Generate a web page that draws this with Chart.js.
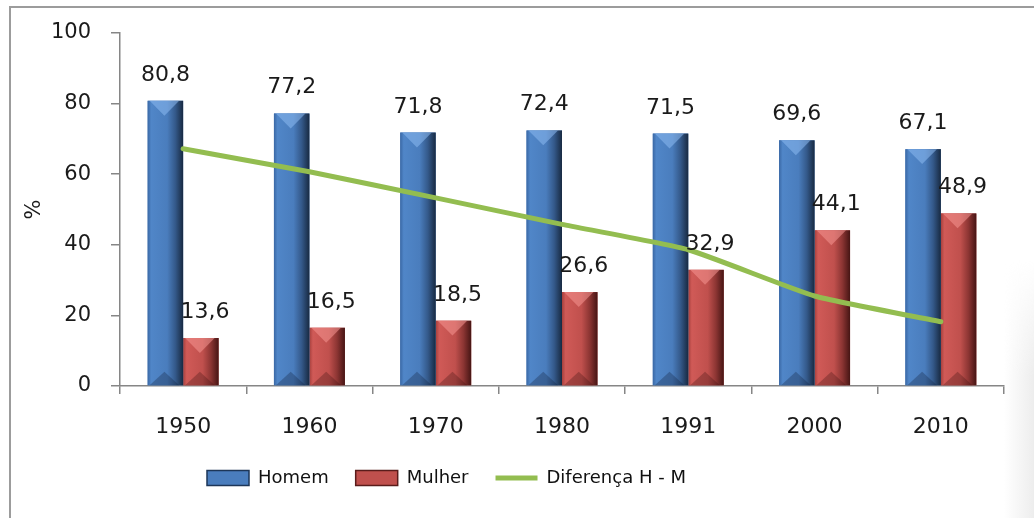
<!DOCTYPE html>
<html>
<head>
<meta charset="utf-8">
<script src="https://cdn.jsdelivr.net/npm/chart.js@4.4.1/dist/chart.umd.min.js"></script>
<style>
  html, body { margin: 0; padding: 0; background: #fff; }
  #moldura { position: absolute; left: 9px; top: 6px; width: 1100px; height: 600px; border: 2px solid #9c9c9c; }
  #sombra { position: absolute; left: 1004px; top: 260px; width: 30px; height: 258px;
            background: linear-gradient(to right, rgba(255,255,255,0), #ededed);
            -webkit-mask-image: linear-gradient(to bottom, transparent, #000 45%); mask-image: linear-gradient(to bottom, transparent, #000 45%); }
  #grafico { position: absolute; left: 0; top: 0; }
</style>
</head>
<body>
<div id="moldura"></div>
<div id="sombra"></div>
<canvas id="grafico" width="1034" height="518"></canvas>
<script>
// Dados
const anos = ['1950', '1960', '1970', '1980', '1991', '2000', '2010'];
const homem = [80.8, 77.2, 71.8, 72.4, 71.5, 69.6, 67.1];
const mulher = [13.6, 16.5, 18.5, 26.6, 32.9, 44.1, 48.9];
const diferenca = [67.2, 60.7, 53.3, 45.8, 38.6, 25.5, 18.2];
const ticksY = [0, 20, 40, 60, 80, 100];

const fonte = "'DejaVu Sans', sans-serif";

// cores do efeito "bisel" das barras (estilo Excel)
const estilos = [
    { base: '#4a7dbd', stops: ['#3a68a5', '#5086c8', '#4a7dbd', '#34598a', '#182a42'], topo: 'rgba(140,185,240,0.55)', fundo: 'rgba(15,30,55,0.3)' },
    { base: '#c0504d', stops: ['#a6403d', '#d05a57', '#c0504d', '#8c3533', '#461514'], topo: 'rgba(245,150,145,0.55)', fundo: 'rgba(60,15,15,0.3)' }
];

const pluginBisel = {
    id: 'bisel',
    afterDatasetDraw(chart, args) {
        if (args.index > 1) return;
        const est = estilos[args.index];
        const ctx = chart.ctx;
        args.meta.data.forEach(function(bar) {
            const w = bar.width;
            const esq = bar.x - w / 2, dir = bar.x + w / 2;
            const topo = bar.y, base = bar.base;
            ctx.save();
            const g = ctx.createLinearGradient(esq, 0, dir, 0);
            g.addColorStop(0, est.stops[0]);
            g.addColorStop(0.1, est.stops[1]);
            g.addColorStop(0.55, est.stops[2]);
            g.addColorStop(0.78, est.stops[3]);
            g.addColorStop(1, est.stops[4]);
            ctx.fillStyle = g;
            ctx.fillRect(esq, topo, w, base - topo);
            // triângulo claro no topo
            ctx.beginPath();
            ctx.moveTo(esq + 2, topo);
            ctx.lineTo(dir - 4, topo);
            ctx.lineTo(bar.x - 1, topo + w * 0.42);
            ctx.closePath();
            ctx.fillStyle = est.topo;
            ctx.fill();
            // sombra na base
            ctx.beginPath();
            ctx.moveTo(esq + 2, base);
            ctx.lineTo(dir - 4, base);
            ctx.lineTo(bar.x - 1, base - w * 0.38);
            ctx.closePath();
            ctx.fillStyle = est.fundo;
            ctx.fill();
            ctx.restore();
        });
    }
};

const pluginRotulos = {
    id: 'rotulos',
    afterDatasetsDraw(chart) {
        const ctx = chart.ctx;
        ctx.save();
        ctx.font = '22px ' + fonte;
        ctx.fillStyle = '#1a1a1a';
        ctx.textAlign = 'center';
        ctx.textBaseline = 'alphabetic';
        [0, 1].forEach(function(i) {
            const meta = chart.getDatasetMeta(i);
            meta.data.forEach(function(bar, j) {
                const txt = chart.data.datasets[i].data[j].toFixed(1).replace('.', ',');
                ctx.fillText(txt, bar.x + (i === 1 ? 4 : 0), bar.y - 20);
            });
        });
        ctx.restore();
    }
};

const pluginLegenda = {
    id: 'posLegenda',
    afterLayout(chart) {
        const dx = 180 - chart.legend.left;
        chart.legend.left += dx;
        chart.legend.right += dx;
    }
};

new Chart(document.getElementById('grafico').getContext('2d'), {
    type: 'bar',
    data: {
        labels: anos,
        datasets: [
            { label: 'Homem', data: homem, backgroundColor: estilos[0].base, order: 1 },
            { label: 'Mulher', data: mulher, backgroundColor: estilos[1].base, order: 1 },
            {
                type: 'line',
                label: 'Diferença H - M',
                data: diferenca,
                borderColor: '#93bd50',
                backgroundColor: '#93bd50',
                borderWidth: 5,
                pointRadius: 0,
                tension: 0.15,
                borderCapStyle: 'round',
                order: 0
            }
        ]
    },
    options: {
        responsive: false,
        animation: false,
        layout: { padding: { left: 10, right: 30, top: 33, bottom: 21 } },
        datasets: { bar: { categoryPercentage: 0.562, barPercentage: 1 } },
        plugins: {
            tooltip: { enabled: false },
            legend: {
                position: 'bottom',
                align: 'start',
                labels: {
                    usePointStyle: true,
                    pointStyleWidth: 42,
                    boxHeight: 15,
                    padding: 27,
                    color: '#111',
                    font: { family: fonte, size: 18 },
                    generateLabels: function(chart) {
                        return chart.data.datasets.map(function(ds, i) {
                            const linha = ds.type === 'line';
                            return {
                                text: ds.label,
                                datasetIndex: i,
                                pointStyle: linha ? 'line' : 'rect',
                                fillStyle: ds.backgroundColor,
                                strokeStyle: linha ? ds.borderColor : (i === 0 ? '#1d3658' : '#5a1c1b'),
                                lineWidth: linha ? 5 : 1.5,
                                fontColor: '#111',
                                hidden: false
                            };
                        });
                    }
                }
            }
        },
        scales: {
            x: {
                afterFit: function(scale) { scale.height = 56; },
                border: { color: '#868686', width: 1.5 },
                grid: { drawOnChartArea: false, color: '#868686', lineWidth: 1.5, tickLength: 8 },
                ticks: { color: '#1a1a1a', padding: 20, font: { family: fonte, size: 22 } }
            },
            y: {
                min: 0,
                max: 100,
                afterFit: function(scale) { scale.width = 110; },
                afterBuildTicks: function(scale) { scale.ticks = ticksY.map(function(v) { return { value: v }; }); },
                border: { color: '#868686', width: 1.5 },
                grid: { drawOnChartArea: false, color: '#868686', lineWidth: 1.5, tickLength: 9 },
                ticks: { color: '#1a1a1a', padding: 20, font: { family: fonte, size: 21 } },
                title: { display: true, text: '%', color: '#1a1a1a', padding: { top: 12, bottom: 0 }, font: { family: fonte, size: 21 } }
            }
        }
    },
    plugins: [pluginBisel, pluginRotulos, pluginLegenda]
});
</script>
</body>
</html>
